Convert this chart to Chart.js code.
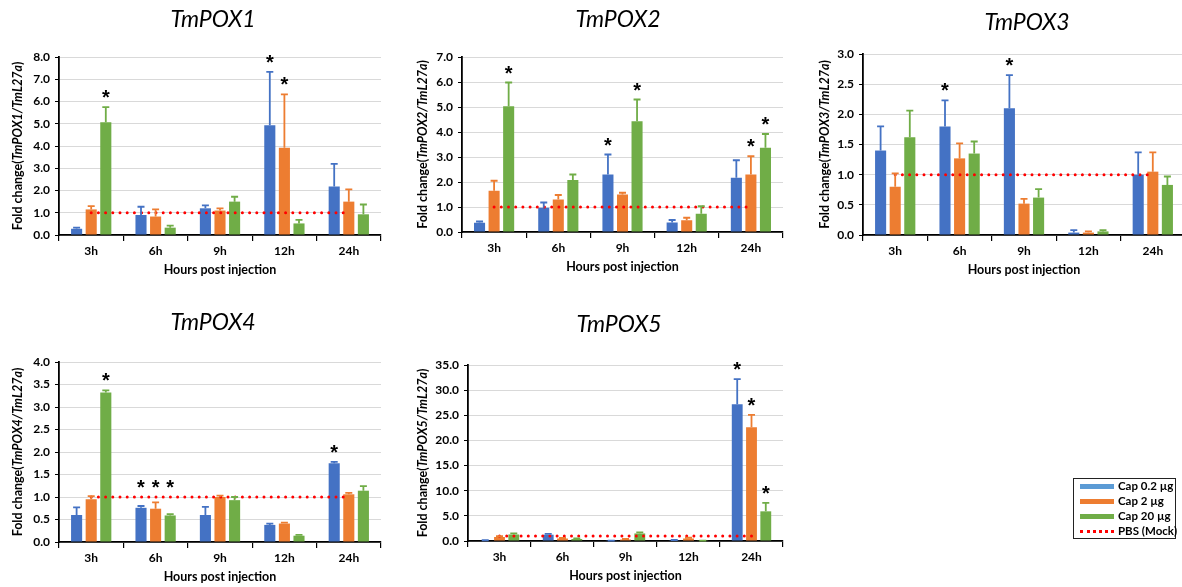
<!DOCTYPE html>
<html>
<head>
<meta charset="utf-8">
<script src="https://cdn.jsdelivr.net/npm/chart.js@4"></script>
<style>
  body { margin: 0; background: #fff; overflow: hidden; }
  #wrap { position: relative; width: 1182px; height: 587px; overflow: hidden; }
  #wrap canvas { position: absolute; left: 0; top: 0; }
  #legend {
    position: absolute; left: 1073px; top: 478px; width: 103px; height: 61px;
    box-sizing: border-box; border: 1px solid #222; background: #fff;
    font: bold 11.5px Lato, 'Liberation Sans', sans-serif; color: #000;
  }
  #legend .row { position: absolute; left: 6px; height: 14px; line-height: 14px; white-space: nowrap; }
  #legend .sw { display: inline-block; width: 34px; height: 5px; vertical-align: middle; margin-right: 4px; position: relative; top: -1px; }
  #legend .dots { display: inline-block; width: 34px; height: 0; border-top: 3px dotted #ff0000; vertical-align: middle; margin-right: 4px; position: relative; top: -1px; }
</style>
</head>
<body>
<div id="wrap">
  <canvas id="c1" width="1182" height="587"></canvas>
  <canvas id="c2" width="1182" height="587"></canvas>
  <canvas id="c3" width="1195" height="587"></canvas>
  <canvas id="c4" width="1182" height="587"></canvas>
  <canvas id="c5" width="1182" height="587"></canvas>
  <div id="legend">
    <div class="row" style="top:0px"><span class="sw" style="background:#5b9bd5"></span>Cap 0.2 µg</div>
    <div class="row" style="top:15px"><span class="sw" style="background:#ed7d31"></span>Cap 2 µg</div>
    <div class="row" style="top:30px"><span class="sw" style="background:#70ad47"></span>Cap 20 µg</div>
    <div class="row" style="top:45px"><span class="dots"></span>PBS (Mock)</div>
  </div>
</div>
<script>
// categories and series
const hours = ['3h', '6h', '9h', '12h', '24h'];
const doses = ['Cap 0.2 µg', 'Cap 2 µg', 'Cap 20 µg'];
const mockLevel = [1, 1, 1, 1, 1];

// rows: Cap 0.2, Cap 2, Cap 20
const pox1Mean = [[0.28, 0.90, 1.20, 4.93, 2.18], [1.15, 0.83, 1.10, 3.92, 1.50], [5.07, 0.33, 1.50, 0.52, 0.93]];
const pox1Sd   = [[0.05, 0.37, 0.13, 2.40, 1.02], [0.15, 0.32, 0.10, 2.40, 0.55], [0.68, 0.09, 0.22, 0.16, 0.44]];
const pox1Star = [[0, 0, 0, 1, 0], [0, 0, 0, 1, 0], [1, 0, 0, 0, 0]];

const pox2Mean = [[0.37, 0.97, 2.30, 0.38, 2.17], [1.65, 1.30, 1.50, 0.47, 2.30], [5.03, 2.08, 4.43, 0.73, 3.37]];
const pox2Sd   = [[0.05, 0.21, 0.80, 0.10, 0.70], [0.40, 0.18, 0.07, 0.10, 0.73], [0.95, 0.22, 0.87, 0.30, 0.55]];
const pox2Star = [[0, 0, 1, 0, 0], [0, 0, 0, 0, 1], [1, 0, 1, 0, 1]];

const pox3Mean = [[1.40, 1.80, 2.10, 0.04, 1.00], [0.80, 1.27, 0.52, 0.04, 1.05], [1.62, 1.35, 0.62, 0.06, 0.83]];
const pox3Sd   = [[0.40, 0.43, 0.55, 0.04, 0.37], [0.22, 0.25, 0.08, 0.02, 0.32], [0.44, 0.20, 0.14, 0.02, 0.14]];
const pox3Star = [[0, 1, 1, 0, 0], [0, 0, 0, 0, 0], [0, 0, 0, 0, 0]];

const pox4Mean = [[0.60, 0.76, 0.60, 0.38, 1.75], [0.95, 0.74, 1.00, 0.41, 1.06], [3.32, 0.59, 0.93, 0.14, 1.14]];
const pox4Sd   = [[0.17, 0.04, 0.18, 0.03, 0.03], [0.07, 0.14, 0.03, 0.02, 0.03], [0.05, 0.03, 0.07, 0.02, 0.10]];
const pox4Star = [[0, 1, 0, 0, 1], [0, 1, 0, 0, 0], [1, 1, 0, 0, 0]];

const pox5Mean = [[0.10, 1.25, 0.05, 0.15, 27.2], [0.80, 0.50, 0.30, 0.50, 22.6], [1.30, 0.40, 1.50, 0.05, 5.90]];
const pox5Sd   = [[0.05, 0.15, 0.03, 0.05, 5.00], [0.15, 0.10, 0.10, 0.15, 2.50], [0.20, 0.10, 0.20, 0.03, 1.70]];
const pox5Star = [[0, 0, 0, 0, 1], [0, 0, 0, 0, 1], [0, 0, 0, 0, 1]];

// y axis tick labels (max / step)
const yMax  = [8, 7, 3, 4, 35];
const yStep = [1, 1, 0.5, 0.5, 5];

const barColors = ['#4472c4', '#ed7d31', '#70ad47'];
const FONT = "Lato, 'Liberation Sans', sans-serif";

// chart area placement for each panel (pixels in the page)
const panels = [
  { id: 'c1', gene: 'TmPOX1', mean: pox1Mean, sd: pox1Sd, star: pox1Star, left: 59, top: 57, right: 381, bottom: 235, titleX: 213, titleY: 20, yTitleX: 18 },
  { id: 'c2', gene: 'TmPOX2', mean: pox2Mean, sd: pox2Sd, star: pox2Star, left: 462, top: 57, right: 783, bottom: 232, titleX: 618, titleY: 20, yTitleX: 423 },
  { id: 'c3', gene: 'TmPOX3', mean: pox3Mean, sd: pox3Sd, star: pox3Star, left: 863, top: 54, right: 1185, bottom: 235, titleX: 1027, titleY: 23, yTitleX: 825 },
  { id: 'c4', gene: 'TmPOX4', mean: pox4Mean, sd: pox4Sd, star: pox4Star, left: 59, top: 362, right: 381, bottom: 542, titleX: 213, titleY: 323, yTitleX: 18 },
  { id: 'c5', gene: 'TmPOX5', mean: pox5Mean, sd: pox5Sd, star: pox5Star, left: 468, top: 365, right: 783, bottom: 541, titleX: 619, titleY: 325, yTitleX: 423 }
];

const Y_W = 40;   // forced width of the y scale box
const X_H = 25;   // forced height of the x scale box

// error bars, significance stars, titles
const decor = {
  id: 'decor',
  afterDatasetsDraw(chart, args, opts) {
    const ctx = chart.ctx;
    const y = chart.scales.y;
    chart.data.datasets.forEach((ds, i) => {
      if (!ds.sd) return;
      const meta = chart.getDatasetMeta(i);
      meta.data.forEach((bar, j) => {
        const hi = ds.data[j] + ds.sd[j];
        const top = y.getPixelForValue(hi);
        ctx.save();
        ctx.strokeStyle = ds.backgroundColor;
        ctx.lineWidth = 1.8;
        ctx.beginPath();
        ctx.moveTo(bar.x, bar.y);
        ctx.lineTo(bar.x, top);
        ctx.moveTo(bar.x - 3.5, top);
        ctx.lineTo(bar.x + 3.5, top);
        ctx.stroke();
        if (ds.star[j]) {
          const sy = y.getPixelForValue(Math.max(hi, opts.mock));
          ctx.fillStyle = '#000';
          ctx.font = "bold 20px 'Liberation Sans', sans-serif";
          ctx.textAlign = 'center';
          ctx.textBaseline = 'alphabetic';
          ctx.fillText('*', bar.x, sy - 3);
        }
        ctx.restore();
      });
    });
  },
  afterDraw(chart, args, opts) {
    const ctx = chart.ctx;
    const a = chart.chartArea;
    ctx.save();
    ctx.fillStyle = '#000';
    // panel title
    ctx.font = 'italic 23px ' + FONT;
    ctx.textAlign = 'center';
    ctx.textBaseline = 'middle';
    ctx.fillText(opts.gene, opts.titleX, opts.titleY);
    // x title
    ctx.font = 'bold 12.5px ' + FONT;
    ctx.fillText('Hours post injection', (a.left + a.right) / 2, a.bottom + 35);
    // y title with italic gene names
    const parts = [
      ['bold 12.5px ' + FONT, 'Fold change('],
      ['bold italic 12.5px ' + FONT, opts.gene + '/TmL27a'],
      ['bold 12.5px ' + FONT, ')']
    ];
    let total = 0;
    parts.forEach(p => { ctx.font = p[0]; total += ctx.measureText(p[1]).width; });
    ctx.translate(opts.yTitleX, (a.top + a.bottom) / 2);
    ctx.rotate(-Math.PI / 2);
    ctx.textAlign = 'left';
    let x = -total / 2;
    parts.forEach(p => { ctx.font = p[0]; ctx.fillText(p[1], x, 0); x += ctx.measureText(p[1]).width; });
    ctx.restore();
  }
};

panels.forEach((p, k) => {
  const canvas = document.getElementById(p.id);
  const datasets = doses.map((d, i) => ({
    label: d,
    data: p.mean[i],
    sd: p.sd[i],
    star: p.star[i],
    backgroundColor: barColors[i],
    borderWidth: 0,
    categoryPercentage: 0.68,
    barPercentage: 0.76,
    order: 1
  }));
  datasets.push({
    type: 'line',
    label: 'PBS (Mock)',
    data: mockLevel,
    borderColor: '#ff0000',
    borderWidth: 3,
    borderDash: [0, 7.2],
    borderCapStyle: 'round',
    pointRadius: 0,
    fill: false,
    order: 0
  });

  new Chart(canvas, {
    type: 'bar',
    data: { labels: hours, datasets: datasets },
    options: {
      responsive: false,
      animation: false,
      events: [],
      layout: {
        padding: {
          left: p.left - Y_W,
          top: p.top,
          right: canvas.width - p.right,
          bottom: canvas.height - p.bottom - X_H
        }
      },
      scales: {
        x: {
          afterFit: s => { s.height = X_H; },
          grid: { display: true, drawOnChartArea: false, drawTicks: true, tickLength: 6, color: '#000', lineWidth: 1.2 },
          border: { display: true, color: '#000', width: 1.8 },
          ticks: { color: '#000', font: { family: FONT, size: 12, weight: 'bold' }, padding: 3, maxRotation: 0 }
        },
        y: {
          min: 0,
          max: yMax[k],
          afterFit: s => { s.width = Y_W; },
          grid: { color: '#d9d9d9', lineWidth: 1, drawTicks: true, tickLength: 4, tickColor: '#000' },
          border: { display: true, color: '#000', width: 1.8 },
          ticks: {
            stepSize: yStep[k],
            color: '#000',
            padding: 5,
            font: { family: FONT, size: 12, weight: 'bold' },
            callback: v => v.toFixed(1)
          }
        }
      },
      plugins: {
        legend: { display: false },
        tooltip: { enabled: false },
        decor: { gene: p.gene, titleX: p.titleX, titleY: p.titleY, yTitleX: p.yTitleX, mock: 1 }
      }
    },
    plugins: [decor]
  });
});
</script>
</body>
</html>
